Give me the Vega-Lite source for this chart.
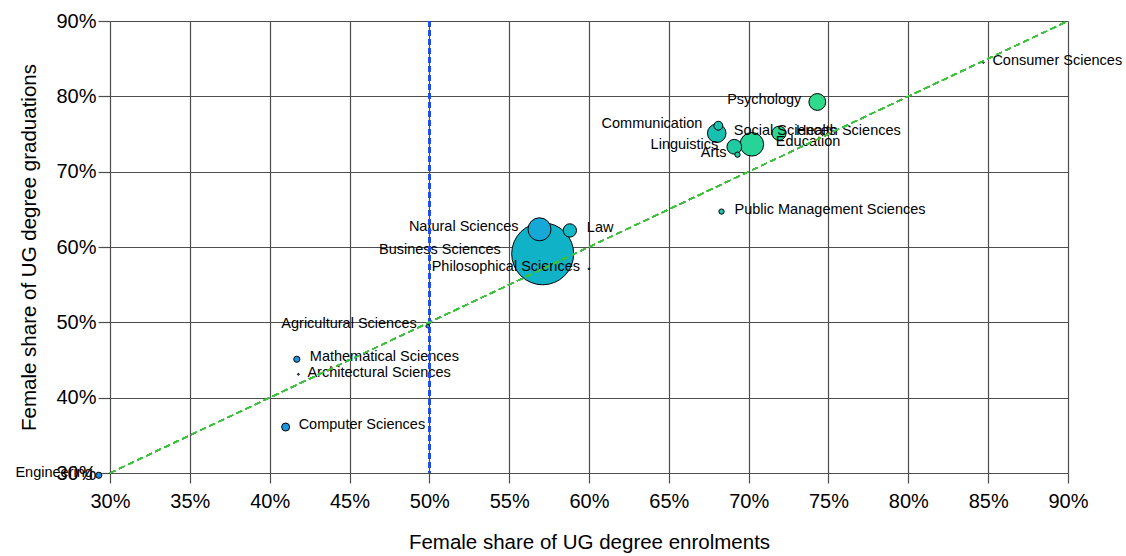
{
  "$schema": "https://vega.github.io/schema/vega-lite/v6.json",
  "width": 958,
  "height": 452,
  "autosize": {"type": "none"},
  "padding": {"left": 110, "top": 21, "right": 58, "bottom": 83},
  "background": "white",
  "config": {"font": "Liberation Sans", "view": {"stroke": null}},
  "data": {
    "values": [
      {"name": "Engineering", "enrol": 0.293, "grad": 0.297, "n": 380},
      {"name": "Computer Sciences", "enrol": 0.41, "grad": 0.361, "n": 640},
      {"name": "Mathematical Sciences", "enrol": 0.417, "grad": 0.451, "n": 380},
      {"name": "Architectural Sciences", "enrol": 0.418, "grad": 0.431, "n": 30},
      {"name": "Agricultural Sciences", "enrol": 0.499, "grad": 0.495, "n": 130},
      {"name": "Business Sciences", "enrol": 0.571, "grad": 0.591, "n": 38500},
      {"name": "Natural Sciences", "enrol": 0.569, "grad": 0.6235, "n": 5300},
      {"name": "Law", "enrol": 0.588, "grad": 0.622, "n": 1770},
      {"name": "Philosophical Sciences", "enrol": 0.6, "grad": 0.571, "n": 30},
      {"name": "Public Management Sciences", "enrol": 0.683, "grad": 0.647, "n": 280},
      {"name": "Communication", "enrol": 0.681, "grad": 0.761, "n": 790},
      {"name": "Social Sciences", "enrol": 0.68, "grad": 0.751, "n": 3460},
      {"name": "Linguistics", "enrol": 0.691, "grad": 0.733, "n": 2180},
      {"name": "Arts", "enrol": 0.693, "grad": 0.7226, "n": 280},
      {"name": "Education", "enrol": 0.702, "grad": 0.7363, "n": 5560},
      {"name": "Health Sciences", "enrol": 0.719, "grad": 0.751, "n": 2000},
      {"name": "Psychology", "enrol": 0.743, "grad": 0.7925, "n": 2840},
      {"name": "Consumer Sciences", "enrol": 0.847, "grad": 0.845, "n": 30}
    ]
  },
  "encoding": {
    "x": {
      "field": "enrol", "type": "quantitative",
      "scale": {"domain": [0.3, 0.9], "nice": false, "zero": false},
      "axis": {
        "values": [0.3, 0.35, 0.4, 0.45, 0.5, 0.55, 0.6, 0.65, 0.7, 0.75, 0.8, 0.85, 0.9],
        "format": ".0%", "grid": true, "gridColor": "#4d4d4d", "gridWidth": 1.2,
        "domain": false, "tickColor": "#4d4d4d", "tickSize": 10, "tickWidth": 1.2,
        "labelFontSize": 20, "labelColor": "#000000", "labelPadding": 8, "labelFlush": false,
        "title": "Female share of UG degree enrolments", "titleFontSize": 20.5,
        "titleFontWeight": "normal", "titleColor": "#000000", "titleY": 75,
        "titleBaseline": "alphabetic"
      }
    },
    "y": {
      "field": "grad", "type": "quantitative",
      "scale": {"domain": [0.3, 0.9], "nice": false, "zero": false},
      "axis": {
        "values": [0.3, 0.4, 0.5, 0.6, 0.7, 0.8, 0.9],
        "format": ".0%", "grid": true, "gridColor": "#4d4d4d", "gridWidth": 1.2,
        "domain": false, "tickColor": "#4d4d4d", "tickSize": 12, "tickWidth": 1.2,
        "labelFontSize": 20, "labelColor": "#000000", "labelPadding": 2, "labelFlush": false,
        "title": "Female share of UG degree graduations", "titleFontSize": 20.5,
        "titleFontWeight": "normal", "titleColor": "#000000", "titleX": -75, "titleY": 226,
        "titleAngle": 270, "titleAlign": "center", "titleBaseline": "alphabetic"
      }
    }
  },
  "layer": [
    {
      "mark": {"type": "point", "shape": "circle", "filled": true, "stroke": "#000000", "strokeWidth": 1, "opacity": 1},
      "encoding": {
        "size": {"field": "n", "type": "quantitative", "scale": {"type": "linear", "domain": [0, 38500], "range": [0, 3848]}, "legend": null},
        "color": {
          "field": "enrol", "type": "quantitative", "legend": null,
          "scale": {
            "type": "linear", "interpolate": "rgb",
            "domain": [0.29, 0.42, 0.5, 0.569, 0.571, 0.59, 0.68, 0.7, 0.75, 0.85],
            "range": ["#1a8ee6", "#1a96e2", "#1ca2d8", "#16a8d6", "#10b2c8", "#14b8c4", "#18c0b2", "#26d498", "#30dc88", "#34e080"]
          }
        },
        "order": {"field": "n", "type": "quantitative", "sort": "descending"}
      }
    },
    {
      "transform": [{"filter": {"field": "name", "oneOf": ["Philosophical Sciences"]}}],
      "mark": {"type": "text", "align": "right", "baseline": "middle", "dx": -9, "dy": -2, "fontSize": 14.5, "color": "#000000"},
      "encoding": {"text": {"field": "name"}}
    },
    {
      "transform": [{"filter": {"field": "name", "oneOf": ["Engineering"]}}],
      "mark": {"type": "text", "align": "right", "baseline": "middle", "dx": -6, "dy": -2, "fontSize": 14.5, "color": "#000000"},
      "encoding": {"text": {"field": "name"}}
    },
    {
      "transform": [{"filter": {"field": "name", "oneOf": ["Arts", "Agricultural Sciences"]}}],
      "mark": {"type": "text", "align": "right", "baseline": "middle", "dx": -11, "dy": -2, "fontSize": 14.5, "color": "#000000"},
      "encoding": {"text": {"field": "name"}}
    },
    {
      "transform": [{"filter": {"field": "name", "oneOf": ["Communication", "Linguistics", "Psychology"]}}],
      "mark": {"type": "text", "align": "right", "baseline": "middle", "dx": -16, "dy": -2, "fontSize": 14.5, "color": "#000000"},
      "encoding": {"text": {"field": "name"}}
    },
    {
      "transform": [{"filter": {"field": "name", "oneOf": ["Natural Sciences"]}}],
      "mark": {"type": "text", "align": "right", "baseline": "middle", "dx": -21, "dy": -2, "fontSize": 14.5, "color": "#000000"},
      "encoding": {"text": {"field": "name"}}
    },
    {
      "transform": [{"filter": {"field": "name", "oneOf": ["Business Sciences"]}}],
      "mark": {"type": "text", "align": "right", "baseline": "middle", "dx": -42, "dy": -4, "fontSize": 14.5, "color": "#000000"},
      "encoding": {"text": {"field": "name"}}
    },
    {
      "transform": [{"filter": {"field": "name", "oneOf": ["Consumer Sciences", "Architectural Sciences"]}}],
      "mark": {"type": "text", "align": "left", "baseline": "middle", "dx": 9, "dy": -1, "fontSize": 14.5, "color": "#000000"},
      "encoding": {"text": {"field": "name"}}
    },
    {
      "transform": [{"filter": {"field": "name", "oneOf": ["Public Management Sciences", "Mathematical Sciences", "Computer Sciences"]}}],
      "mark": {"type": "text", "align": "left", "baseline": "middle", "dx": 13, "dy": -2, "fontSize": 14.5, "color": "#000000"},
      "encoding": {"text": {"field": "name"}}
    },
    {
      "transform": [{"filter": {"field": "name", "oneOf": ["Social Sciences", "Law", "Health Sciences"]}}],
      "mark": {"type": "text", "align": "left", "baseline": "middle", "dx": 17, "dy": -2, "fontSize": 14.5, "color": "#000000"},
      "encoding": {"text": {"field": "name"}}
    },
    {
      "transform": [{"filter": {"field": "name", "oneOf": ["Education"]}}],
      "mark": {"type": "text", "align": "left", "baseline": "middle", "dx": 24, "dy": -2, "fontSize": 14.5, "color": "#000000"},
      "encoding": {"text": {"field": "name"}}
    },
    {
      "mark": {"type": "rule", "color": "#2050e8", "strokeWidth": 2, "strokeDash": [6, 3]},
      "encoding": {"x": {"datum": 0.5, "type": "quantitative"}, "y": null}
    },
    {
      "mark": {"type": "rule", "color": "#3cc23c", "strokeWidth": 1.2, "strokeDash": [6, 4]},
      "encoding": {
        "x": {"datum": 0.3, "type": "quantitative"},
        "y": {"datum": 0.3, "type": "quantitative"},
        "x2": {"datum": 0.9},
        "y2": {"datum": 0.9}
      }
    }
  ]
}
